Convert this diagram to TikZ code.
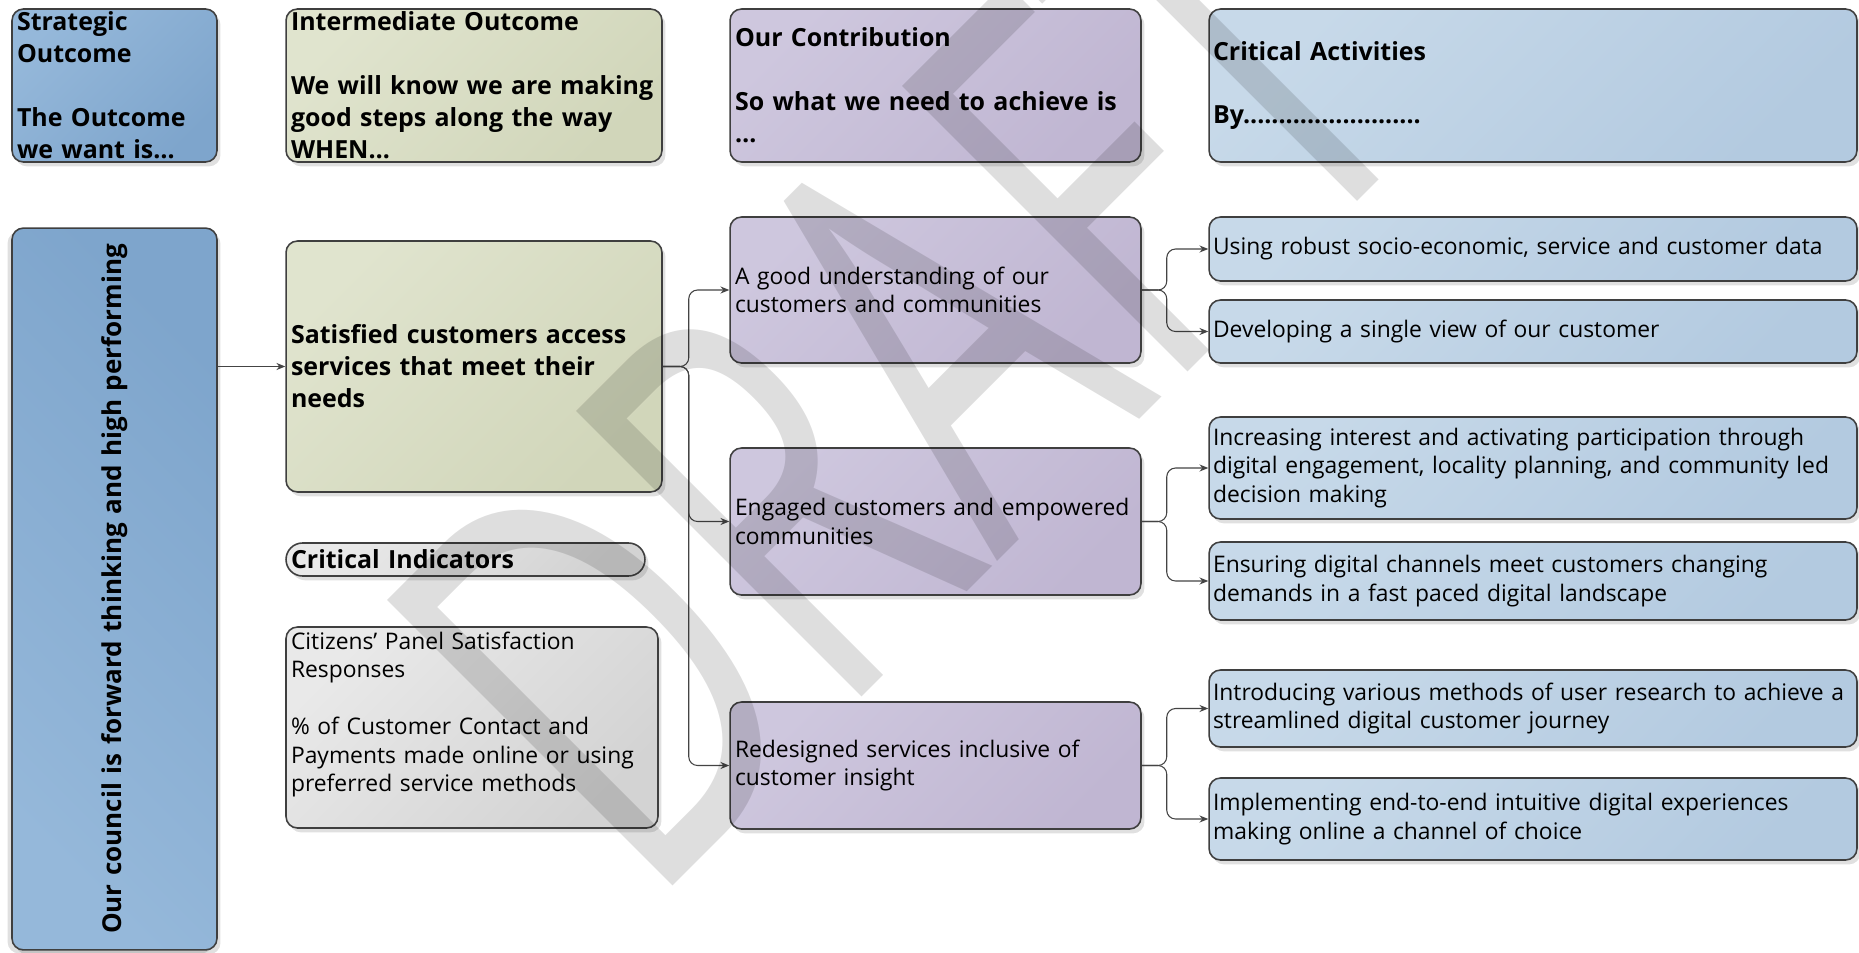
\documentclass[tikz,border=0pt]{standalone}
\usepackage{fontspec}
\setmainfont{Open Sans}
\usetikzlibrary{arrows.meta,shadows}
\definecolor{Edge}{HTML}{3F3F3F}
\definecolor{Wire}{HTML}{444444}
\definecolor{StratA}{HTML}{95B8DA}
\definecolor{StratB}{HTML}{7EA5CC}
\definecolor{InterA}{HTML}{E0E4CE}
\definecolor{InterB}{HTML}{D1D6BA}
\definecolor{ContA}{HTML}{CEC7DE}
\definecolor{ContB}{HTML}{C0B6D2}
\definecolor{ActA}{HTML}{C7D9E9}
\definecolor{ActB}{HTML}{B3CAE0}
\definecolor{IndA}{HTML}{E9E9E9}
\definecolor{IndB}{HTML}{D3D3D3}

\tikzset{
  card/.style={draw=Edge, line width=0.9pt, rounded corners=6.5pt, inner xsep=0.1cm, inner ysep=0pt,
    align=left, drop shadow={shadow xshift=2pt, shadow yshift=-2.5pt, fill=black, opacity=0.12}},
  stratbox/.style={card, left color=StratA, right color=StratB, shading angle=45},
  interbox/.style={card, left color=InterA, right color=InterB, shading angle=45},
  contbox/.style={card, left color=ContA, right color=ContB, shading angle=45,
    minimum width=8.22cm, text width=8.02cm},
  actbox/.style={card, left color=ActA, right color=ActB, shading angle=45,
    inner xsep=0.08cm, minimum width=12.96cm, text width=12.80cm},
  indbox/.style={card, left color=IndA, right color=IndB, shading angle=45},
  head/.style={font=\fontsize{14.2}{18.2}\selectfont\bfseries},
  body/.style={font=\fontsize{13.0}{16.2}\selectfont},
  wire/.style={draw=Wire, line width=0.6pt, rounded corners=5pt, -{Stealth[length=5pt,width=4pt]}},
  wmark/.style={font=\fontsize{322}{322}\selectfont, text=black, text opacity=0.13,
    inner sep=0pt, anchor=base west, rotate=45, xscale=0.65},
}

\begin{document}
\begin{tikzpicture}[x=0.02cm,y=-0.02cm]
  \fill[white] (0,0) rectangle (1859,953);
  \useasboundingbox (0,0) rectangle (1859,953);

  % column headers
  \node[stratbox, head, minimum width=4.10cm, minimum height=3.06cm, text width=3.90cm] (soh) at (114.5,85.5)
    {Strategic\\Outcome\\[18.2pt]The Outcome\\we want is…};
  \node[interbox, head, minimum width=7.52cm, minimum height=3.06cm, text width=7.32cm] (ioh) at (474,85.5)
    {Intermediate Outcome\\[18.2pt]We will know we are making\\good steps along the way\\WHEN…};
  \node[contbox, head, minimum height=3.06cm] (och) at (935.5,85.5)
    {Our Contribution\\[18.2pt]So what we need to achieve is\\…};
  \node[actbox, head, minimum height=3.06cm] (cah) at (1533,85.5)
    {Critical Activities\\[18.2pt]By.........................};

  % outcomes
  \node[stratbox, head, rotate=90, font=\fontsize{14.8}{18}\selectfont\bfseries, align=center,
    minimum width=14.44cm, minimum height=4.10cm, text width=14cm, shading angle=135,
    drop shadow={shadow xshift=-2.5pt, shadow yshift=-2pt, fill=black, opacity=0.12}] (goal) at (114.5,589)
    {Our council is forward thinking and high performing};
  \node[interbox, head, minimum width=7.52cm, minimum height=5.02cm, text width=7.32cm] (sat) at (474,366.5)
    {Satisfied customers access\\services that meet their\\needs};
  \node[indbox, head, rounded corners=0.33cm, minimum width=7.18cm, minimum height=0.66cm, text width=6.98cm] (ind) at (465.5,559.5)
    {Critical Indicators};
  \node[indbox, body, minimum width=7.44cm, minimum height=4.02cm, text width=7.24cm, text depth=99pt] (kpi) at (472,727.5)
    {Citizens’ Panel Satisfaction\\Responses\\[16.2pt]\% of Customer Contact and\\Payments made online or using\\preferred service methods};

  % contributions
  \node[contbox, body, minimum height=2.92cm] (c1) at (935.5,290)
    {A good understanding of our\\customers and communities};
  \node[contbox, body, minimum height=2.94cm] (c2) at (935.5,521.5)
    {Engaged customers and empowered\\communities};
  \node[contbox, body, minimum height=2.54cm] (c3) at (935.5,765.5)
    {Redesigned services inclusive of\\customer insight};

  % critical activities
  \node[actbox, body, minimum height=1.28cm] (a1) at (1533,249)
    {Using robust socio-economic, service and customer data};
  \node[actbox, body, minimum height=1.26cm] (a2) at (1533,331.5)
    {Developing a single view of our customer};
  \node[actbox, body, minimum height=2.04cm] (a3) at (1533,468)
    {Increasing interest and activating participation through\\digital engagement, locality planning, and community led\\decision making};
  \node[actbox, body, minimum height=1.56cm] (a4) at (1533,581)
    {Ensuring digital channels meet customers changing\\demands in a fast paced digital landscape};
  \node[actbox, body, minimum height=1.54cm] (a5) at (1533,708.5)
    {Introducing various methods of user research to achieve a\\streamlined digital customer journey};
  \node[actbox, body, minimum height=1.64cm] (a6) at (1533,819)
    {Implementing end-to-end intuitive digital experiences\\making online a channel of choice};

  % connectors
  \draw[wire] (goal.south |- sat.west) -- (sat.west);
  \foreach \c in {c1,c2,c3}
    \draw[wire] (sat.east) -- ++(26,0) |- (\c.west);
  \foreach \c/\a/\b in {c1/a1/a2, c2/a3/a4, c3/a5/a6} {
    \draw[wire] (\c.east) -- ++(25,0) |- (\a.west);
    \draw[wire] (\c.east) -- ++(25,0) |- (\b.west);
  }

  % watermark
  \node[wmark] (draft) at (647,912) {DRAFT};
\end{tikzpicture}
\end{document}
